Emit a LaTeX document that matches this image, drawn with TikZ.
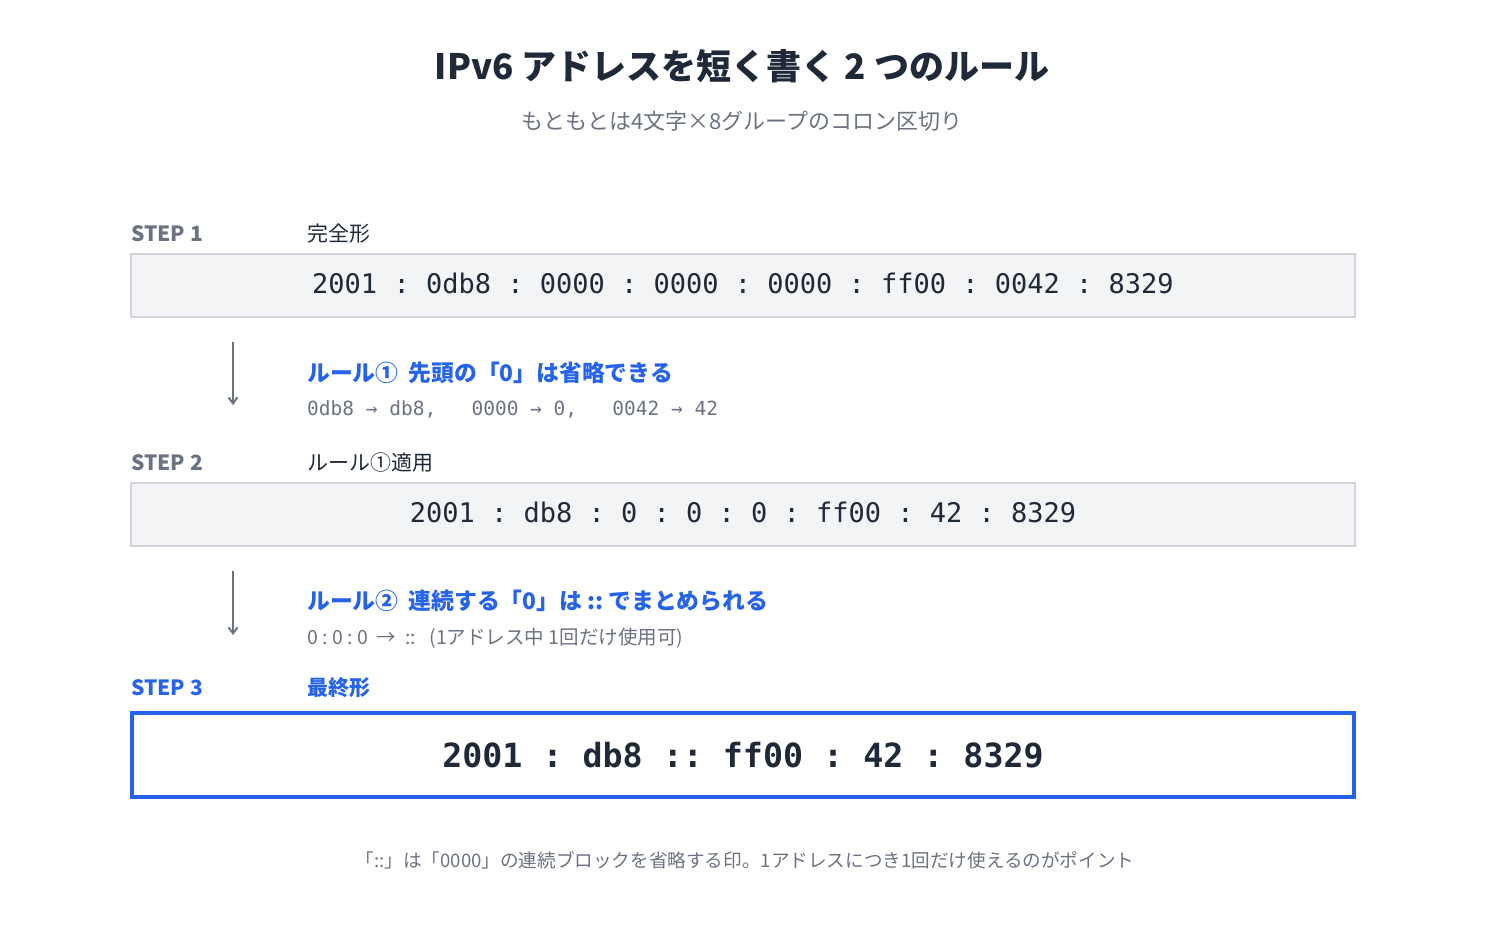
\documentclass[tikz,border=0pt]{standalone}
\usepackage{fontspec}
\setmainfont{Noto Sans CJK JP}
\newfontfamily\monof{DejaVu Sans Mono}
\usetikzlibrary{arrows.meta}
\definecolor{ink}{HTML}{1F2937}
\definecolor{mgray}{HTML}{6B7280}
\definecolor{mblue}{HTML}{2563EB}
\definecolor{boxfill}{HTML}{F3F4F6}
\definecolor{boxline}{HTML}{D1D5DB}
\frenchspacing
\tikzset{
  steplabel/.style={anchor=west,inner sep=0pt,font=\fontsize{21}{24}\selectfont\bfseries,text=mgray},
  stagelabel/.style={anchor=west,inner sep=0pt,font=\fontsize{21}{24}\selectfont,text=ink},
  addrbox/.style={draw=boxline,line width=2pt,fill=boxfill,minimum width=1224pt,minimum height=63pt,inner sep=0pt},
  addrtext/.style={inner sep=0pt,font=\monof\fontsize{27}{32}\selectfont,text=ink},
  finalbox/.style={draw=mblue,line width=3.5pt,fill=white,minimum width=1222pt,minimum height=84pt,inner sep=0pt,font=\monof\bfseries\fontsize{33.3}{38}\selectfont,text=ink},
  ruletitle/.style={anchor=west,inner sep=0pt,font=\fontsize{22.8}{26}\selectfont\bfseries,text=mblue},
  ruleex/.style={anchor=west,inner sep=0pt,text=mgray},
  flowarrow/.style={draw=mgray,line width=2pt,-{Straight Barb[length=6pt,width=9pt]}},
}
\begin{document}
\begin{tikzpicture}[x=1pt,y=-1pt]
\useasboundingbox (0,0) rectangle (1485,929);
\node[inner sep=0pt,font=\fontsize{35}{40}\selectfont\bfseries,text=ink] (title) at (742,66) {IPv6 アドレスを短く書く 2 つのルール};
\node[inner sep=0pt,font=\fontsize{22}{26}\selectfont,text=mgray] (sub) at (742,121) {もともとは4文字×8グループのコロン区切り};

\node[steplabel] (s1) at (131,234) {STEP 1};
\node[stagelabel] (s1t) at (307,234) {完全形};
\node[addrbox] (b1) at (743,285) {};
\node[addrtext] (b1t) at (743,283) {2001 : 0db8 : 0000 : 0000 : 0000 : ff00 : 0042 : 8329};

\coordinate (a1s) at (233,342);
\coordinate (a1e) at (233,405);
\draw[flowarrow] (a1s) -- (a1e);
\node[ruletitle] (r1) at (307,373) {ルール①\hspace{0.45em}先頭の「0」は省略できる};
\node[ruleex,font=\monof\fontsize{19.5}{23}\selectfont] (r1x) at (307,409) {0db8 → db8,\ \ \ 0000 → 0,\ \ \ 0042 → 42};

\node[steplabel] (s2) at (131,463) {STEP 2};
\node[stagelabel] (s2t) at (307,463) {ルール①適用};
\node[addrbox] (b2) at (743,514) {};
\node[addrtext] (b2t) at (743,512) {2001 : db8 : 0 : 0 : 0 : ff00 : 42 : 8329};

\coordinate (a2s) at (233,571);
\coordinate (a2e) at (233,635);
\draw[flowarrow] (a2s) -- (a2e);
\node[ruletitle] (r2) at (307,601) {ルール②\hspace{0.45em}連続する「0」は :: でまとめられる};
\node[ruleex,font=\fontsize{19.5}{23}\selectfont] (r2x) at (307,638) {0 : 0 : 0\hspace{0.45em}→\hspace{0.45em}::\hspace{0.7em}(1アドレス中 1回だけ使用可)};

\node[steplabel,text=mblue] (s3) at (131,688) {STEP 3};
\node[stagelabel,font=\fontsize{21}{24}\selectfont\bfseries,text=mblue] (s3t) at (307,688) {最終形};
\node[finalbox] (b3) at (743,755) {2001 : db8 :: ff00 : 42 : 8329};

\node[inner sep=0pt,font=\fontsize{18.6}{22}\selectfont,text=mgray] (foot) at (745,860) {「::」は「0000」の連続ブロックを省略する印。1アドレスにつき1回だけ使えるのがポイント};
\end{tikzpicture}
\end{document}
